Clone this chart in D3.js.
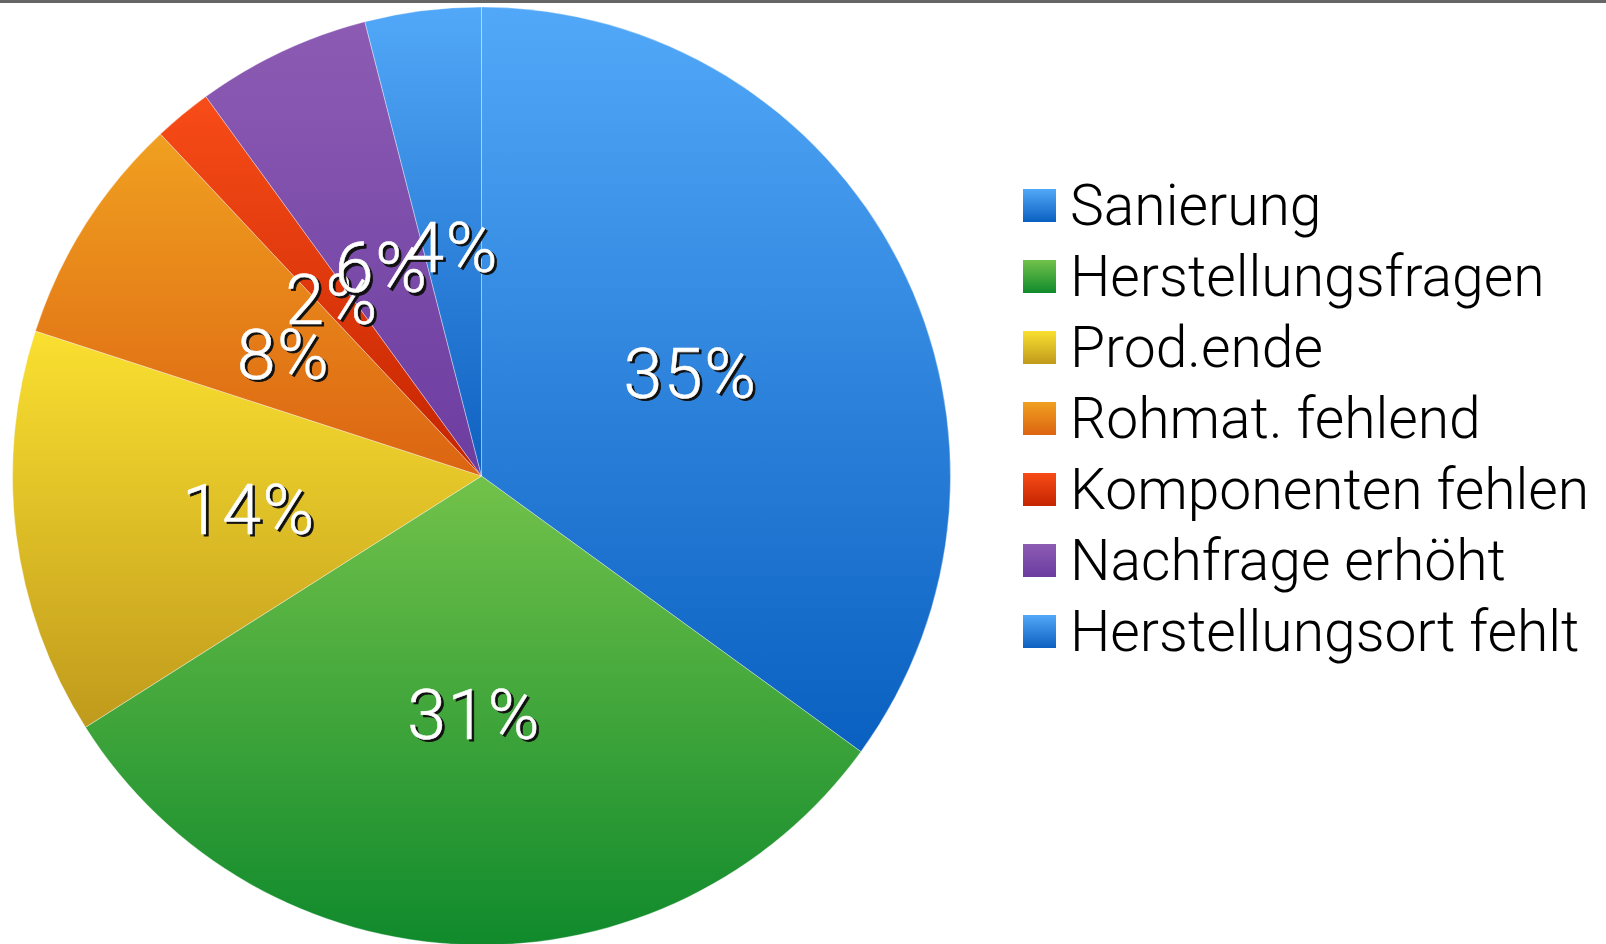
<!DOCTYPE html>
<html>
<head>
<meta charset="utf-8">
<script src="https://d3js.org/d3.v7.min.js"></script>
<style>
body { margin: 0; background: white; }
svg { display: block; }
.lbl { font-family: Roboto, "Noto Sans", sans-serif; font-weight: 300; }
</style>
</head>
<body>
<svg id="chart" width="1606" height="944"></svg>
<script>
// data
var categories = ["Sanierung", "Herstellungsfragen", "Prod.ende", "Rohmat. fehlend",
                  "Komponenten fehlen", "Nachfrage erhöht", "Herstellungsort fehlt"];
var values = [35, 31, 14, 8, 2, 6, 4];
var colorTop = ["#52a8f8", "#72c24a", "#fae030", "#f0a020", "#f84c18", "#8c5cb4", "#52a8f8"];
var colorBottom = ["#0a60c0", "#108a2c", "#c09a1c", "#dc6412", "#c42400", "#6c3ca0", "#0e60c0"];

var svg = d3.select("#chart");
var W = 1606, H = 944;
var cx = 481.5, cy = 476, R = 469;

// top grey rule
svg.append("rect").attr("x", 0).attr("y", 0).attr("width", W).attr("height", 3).attr("fill", "#666");

var defs = svg.append("defs");
categories.forEach(function(c, i) {
  var g = defs.append("linearGradient").attr("id", "grad" + i)
    .attr("x1", 0).attr("y1", 0).attr("x2", 0).attr("y2", 1);
  g.append("stop").attr("offset", "0%").attr("stop-color", colorTop[i]);
  g.append("stop").attr("offset", "100%").attr("stop-color", colorBottom[i]);
});

var pie = d3.pie().sort(null).value(function(d) { return d; });
var arcs = pie(values);
var arc = d3.arc().innerRadius(0).outerRadius(R);
var labelArc = d3.arc().innerRadius(R * 0.5).outerRadius(R * 0.5);

var g = svg.append("g").attr("transform", "translate(" + cx + "," + cy + ")");
g.selectAll("path.slice").data(arcs).enter().append("path")
  .attr("class", "slice")
  .attr("d", arc)
  .attr("fill", function(d, i) { return "url(#grad" + i + ")"; })
  .attr("stroke", "rgba(255,255,255,0.35)")
  .attr("stroke-width", 1);

// percent labels, shadow then white
var lab = g.selectAll("g.pl").data(arcs).enter().append("g").attr("class", "pl")
  .attr("transform", function(d) { var p = labelArc.centroid(d); return "translate(" + p[0] + "," + (p[1] + 3) + ")"; });
lab.append("text").attr("class", "lbl")
  .attr("x", 2.5).attr("y", 2.5).attr("dy", "0.36em")
  .attr("text-anchor", "middle").attr("font-size", 70).attr("letter-spacing", 1.5)
  .attr("fill", "#111").attr("stroke", "#111").attr("stroke-width", 0.8)
  .text(function(d) { return d.data + "%"; });
lab.append("text").attr("class", "lbl")
  .attr("dy", "0.36em")
  .attr("text-anchor", "middle").attr("font-size", 70).attr("letter-spacing", 1.5)
  .attr("fill", "white").attr("stroke", "white").attr("stroke-width", 0.6)
  .text(function(d) { return d.data + "%"; });

// legend
var y = d3.scalePoint().domain(categories).range([225, 225 + 71 * 6]);
var leg = svg.append("g").selectAll("g").data(categories).enter().append("g")
  .attr("transform", function(d) { return "translate(1023," + y(d) + ")"; });
leg.append("rect").attr("x", 0).attr("y", -36).attr("width", 33).attr("height", 33)
  .attr("fill", function(d, i) { return "url(#grad" + i + ")"; });
leg.append("text").attr("class", "lbl").attr("x", 47).attr("y", 0)
  .attr("font-size", 57).attr("fill", "#000")
  .text(function(d) { return d; });
</script>
</body>
</html>
